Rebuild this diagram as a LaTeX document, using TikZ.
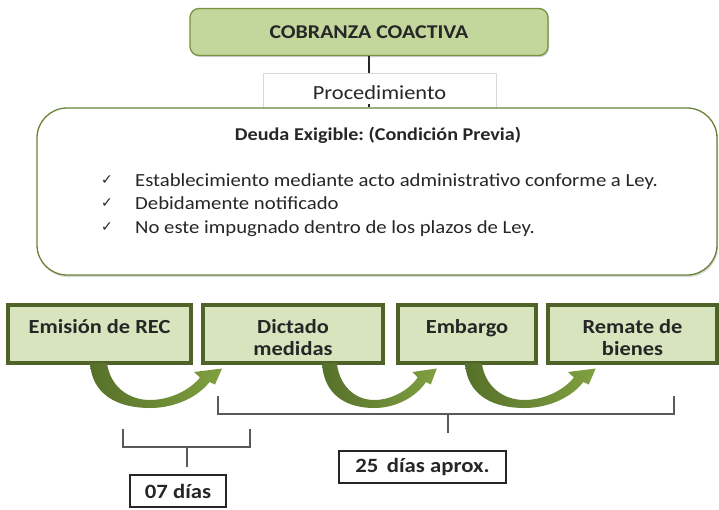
\documentclass[tikz,border=0pt]{standalone}
\usepackage{fontspec}
\setmainfont{Carlito}[FakeStretch=1.12]
\newfontfamily\djv{DejaVu Sans}
\usetikzlibrary{shadows}
\definecolor{oliveD}{HTML}{4F6228}
\definecolor{oliveM}{HTML}{76923C}
\definecolor{topfill}{HTML}{C3D69B}
\definecolor{boxfill}{HTML}{D7E4BD}
\definecolor{brk}{HTML}{595959}
\definecolor{arrL}{HTML}{56702A}
\definecolor{arrR}{HTML}{80A040}
\frenchspacing
\tikzset{
  topbox/.style={draw=oliveM, line width=1.3pt, fill=topfill, rounded corners=9pt,
    font=\fontsize{19.5}{24}\selectfont\bfseries, text=black!85,
    drop shadow={shadow xshift=1pt, shadow yshift=-1.5pt, opacity=0.35}},
  procbox/.style={draw=black!15, line width=0.6pt, fill=white},
  bigbox/.style={draw=oliveM!90!black, line width=1.3pt, fill=white, rounded corners=30pt,
    drop shadow={shadow xshift=1pt, shadow yshift=-2pt, opacity=0.3}},
  stepbox/.style={draw=oliveD, line width=4pt, fill=boxfill},
  steptext/.style={anchor=base, inner sep=0pt, font=\fontsize{20}{22}\selectfont\bfseries, text=black!85},
  title/.style={anchor=base, inner sep=0pt, font=\fontsize{18}{22}\selectfont\bfseries, text=black!85},
  item/.style={anchor=base west, inner sep=0pt, font=\fontsize{18.5}{22}\selectfont, text=black!85},
  chk/.style={anchor=base, inner sep=0pt, font=\djv\fontsize{14}{16}\selectfont, text=black!85},
  brkline/.style={draw=brk, line width=1.4pt},
  daybox/.style={draw=black!85, line width=1.2pt, fill=white,
    font=\fontsize{20.3}{22}\selectfont\bfseries, text=black!85},
  crescent/.pic={
    \shade[left color=arrL, right color=arrR]
      (0,363) .. controls (2,395) and (28,408) .. (60,408)
      .. controls (85,408) and (108,397) .. (119.5,382)
      -- (125,384.5) -- (132,368.5) -- (104,372) -- (110,377.5)
      .. controls (100,390) and (80,400) .. (60,400)
      .. controls (38,400) and (20,386) .. (17,363) -- cycle;
  }
}
\begin{document}
\begin{tikzpicture}[x=1pt,y=-1pt]
\useasboundingbox[fill=white] (0,0) rectangle (719,509);

% top
\node[topbox, minimum width=358pt, minimum height=47pt] (top) at (369,32) {COBRANZA COACTIVA};
\node[procbox, minimum width=233pt, minimum height=40pt] (proc) at (379.5,93) {};
\node[bigbox, minimum width=680pt, minimum height=167pt] (big) at (377,191.5) {};
\draw[line width=2.6pt, black!85] (top.south) -- (top.south |- proc.north);
\draw[line width=2pt, black!85] (top.south |- 0,104) -- (top.south |- big.north);
\node[anchor=base, inner sep=0pt, font=\fontsize{20}{24}\selectfont, text=black!85] (proct) at (379.5,99) {Procedimiento};

\node[title] (ttl) at (378,140) {Deuda Exigible: (Condición Previa)};
\node[chk] (c1) at (107,184) {✓};
\node[chk] (c2) at (107,207.5) {✓};
\node[chk] (c3) at (107,231) {✓};
\node[item] (i1) at (135,186) {Establecimiento mediante acto administrativo conforme a Ley.};
\node[item] (i2) at (135,209.5) {Debidamente notificado};
\node[item] (i3) at (135,233) {No este impugnado dentro de los plazos de Ley.};

% steps
\node[stepbox, minimum width=183pt, minimum height=58pt] (b1) at (99.5,334) {};
\node[stepbox, minimum width=180pt, minimum height=58pt] (b2) at (293,334) {};
\node[stepbox, minimum width=138pt, minimum height=58pt] (b3) at (467,334) {};
\node[stepbox, minimum width=169pt, minimum height=58pt] (b4) at (632.5,334) {};
\node[steptext] (t1) at (b1.center |- 0,333) {Emisión de REC};
\node[steptext] (t2) at (b2.center |- 0,333) {\parbox[t]{170pt}{\centering Dictado\\medidas}};
\node[steptext] (t3) at (b3.center |- 0,333) {Embargo};
\node[steptext] (t4) at (b4.center |- 0,333) {\parbox[t]{160pt}{\centering Remate de\\bienes}};

% curved arrows
\pic at (90,0) {crescent};
\pic[xscale=0.87] at (322,0) {crescent};
\pic[xscale=0.99] at (465,0) {crescent};

% brackets
\node[daybox, minimum width=96pt, minimum height=32pt] (d7) at (178,491) {07 días};
\node[daybox, minimum width=167pt, minimum height=32pt] (d25) at (422.5,467) {25\, días aprox.};
\coordinate (k1a) at (218,396);
\coordinate (k1b) at (674,396);
\coordinate (k1m) at (448,414);
\coordinate (k2a) at (123,429);
\coordinate (k2b) at (250,429);
\coordinate (k2m) at (187,447);
\draw[brkline] (k1a) -- (k1a |- k1m) -- (k1b |- k1m) -- (k1b);
\draw[brkline] (k1m) -- ++(0,19);
\draw[brkline] (k2a) -- (k2a |- k2m) -- (k2b |- k2m) -- (k2b);
\draw[brkline] (k2m) -- ++(0,20);
\end{tikzpicture}
\end{document}
